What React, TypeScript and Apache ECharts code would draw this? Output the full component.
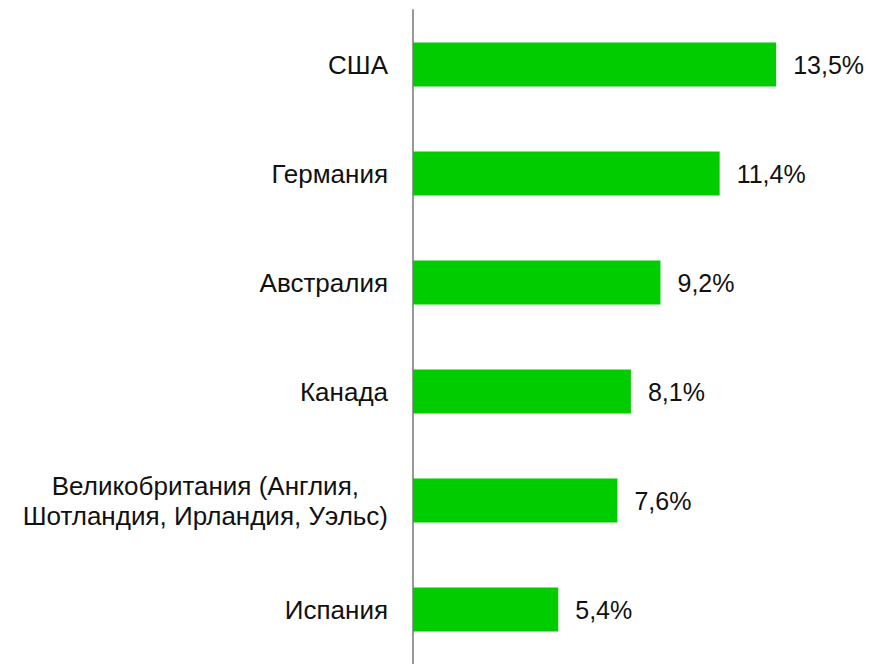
import React, { useEffect, useRef } from "react";
import * as echarts from "echarts";

const categories: string[] = [
  "США",
  "Германия",
  "Австралия",
  "Канада",
  "Великобритания (Англия,\nШотландия, Ирландия, Уэльс)",
  "Испания",
];
const shares: number[] = [13.5, 11.4, 9.2, 8.1, 7.6, 5.4];

export default function App() {
  const ref = useRef<HTMLDivElement>(null);
  useEffect(() => {
    document.body.style.margin = "0";
    const chart = echarts.init(ref.current!, undefined, { renderer: "svg" });
    const font = "'Liberation Sans', Arial, sans-serif";
    chart.setOption({
      animation: false,
      backgroundColor: "#ffffff",
      grid: { left: 413, top: 10, width: 376.6, height: 658, containLabel: false },
      xAxis: {
        type: "value",
        min: 0,
        max: 14,
        show: false,
      },
      yAxis: {
        type: "category",
        data: categories,
        inverse: true,
        axisLine: { show: true, lineStyle: { color: "#999999", width: 2 } },
        axisTick: { show: false },
        splitLine: { show: false },
        axisLabel: {
          margin: 25,
          fontFamily: font,
          fontSize: 26,
          color: "#111111",
          lineHeight: 30,
          formatter: (v: string) =>
            v
              .split("\n")
              .map((s) => "{c|" + s + "}")
              .join("\n"),
          rich: {
            c: {
              align: "center",
              fontFamily: font,
              fontSize: 26,
              color: "#111111",
              lineHeight: 30,
            },
          },
        },
      },
      series: [
        {
          type: "bar",
          data: shares,
          barWidth: 44,
          itemStyle: { color: "#00CC00" },
          label: {
            show: true,
            position: "right",
            distance: 17,
            fontFamily: font,
            fontSize: 25,
            color: "#111111",
            formatter: (p: any) => String(p.value).replace(".", ",") + "%",
          },
        },
      ],
    });
    return () => chart.dispose();
  }, []);
  return <div ref={ref} style={{ width: 870, height: 664 }} />;
}
